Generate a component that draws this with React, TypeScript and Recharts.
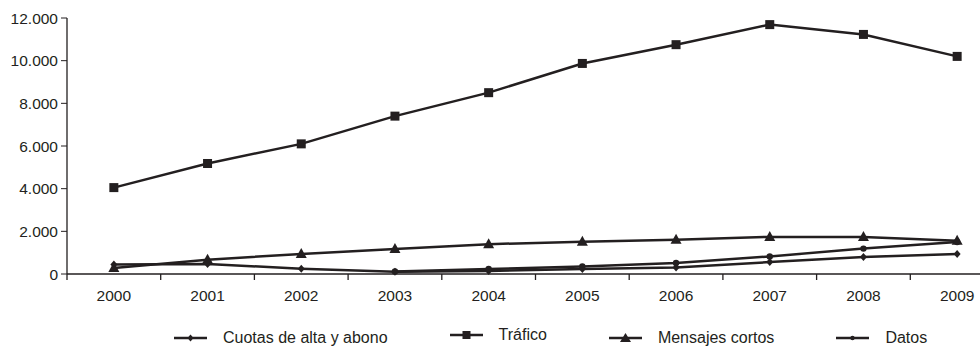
import React from "react";
import { LineChart, Line, XAxis, YAxis } from "recharts";

// Annual figures (millions), 2000–2009
const years = ["2000", "2001", "2002", "2003", "2004", "2005", "2006", "2007", "2008", "2009"];
const cuotas = [450, 470, 250, 110, 140, 230, 310, 560, 800, 940];
const trafico = [4050, 5180, 6100, 7400, 8500, 9870, 10750, 11690, 11230, 10200];
const mensajes = [280, 670, 940, 1170, 1400, 1510, 1610, 1740, 1740, 1560];
const datos: (number | null)[] = [null, null, null, 120, 235, 357, 516, 826, 1190, 1500];

const seriesNames = ["Cuotas de alta y abono", "Tráfico", "Mensajes cortos", "Datos"];
const yTicks = [0, 2000, 4000, 6000, 8000, 10000, 12000];

const INK = "#231f20";
const FONT = "'Liberation Sans', Arial, sans-serif";

const data = years.map((year, i) => ({
  i,
  year,
  cuotas: cuotas[i],
  trafico: trafico[i],
  mensajes: mensajes[i],
  datos: datos[i],
}));

const indexTicks = years.map((_, i) => i);
const boundaryTicks = [...years.map((_, i) => i - 0.5), years.length - 0.5];

const fmtThousands = (v: number) =>
  v.toString().replace(/\B(?=(\d{3})+(?!\d))/g, ".");

type DotProps = { cx?: number | null; cy?: number | null; index?: number };

const SquareDot = (p: DotProps) =>
  p.cx == null || p.cy == null ? (
    <g key={`sq-${p.index}`} />
  ) : (
    <rect key={`sq-${p.index}`} x={p.cx - 4.5} y={p.cy - 4.5} width={9} height={9} fill={INK} />
  );

const TriangleDot = (p: DotProps) =>
  p.cx == null || p.cy == null ? (
    <g key={`tr-${p.index}`} />
  ) : (
    <polygon
      key={`tr-${p.index}`}
      points={`${p.cx},${p.cy - 6} ${p.cx - 5.5},${p.cy + 4} ${p.cx + 5.5},${p.cy + 4}`}
      fill={INK}
    />
  );

const DiamondDot = (p: DotProps) =>
  p.cx == null || p.cy == null ? (
    <g key={`dm-${p.index}`} />
  ) : (
    <polygon
      key={`dm-${p.index}`}
      points={`${p.cx},${p.cy - 4} ${p.cx + 3.5},${p.cy} ${p.cx},${p.cy + 4} ${p.cx - 3.5},${p.cy}`}
      fill={INK}
    />
  );

const CircleDot = (p: DotProps) =>
  p.cx == null || p.cy == null ? (
    <g key={`ci-${p.index}`} />
  ) : (
    <circle key={`ci-${p.index}`} cx={p.cx} cy={p.cy} r={3.2} fill={INK} />
  );

const LegendMarker = ({ kind }: { kind: number }) => (
  <svg width={33} height={14} style={{ display: "block", flex: "none" }}>
    <line x1={0} y1={7} x2={33} y2={7} stroke={INK} strokeWidth={2.5} />
    {kind === 0 && <polygon points="16.5,3.5 19.5,7 16.5,10.5 13.5,7" fill={INK} />}
    {kind === 1 && <rect x={12.5} y={3} width={8} height={8} fill={INK} />}
    {kind === 2 && <polygon points="16.5,2 22,11 11,11" fill={INK} />}
    {kind === 3 && <circle cx={16.5} cy={7} r={2.2} fill={INK} />}
  </svg>
);

export default function App() {
  return (
    <div
      style={{
        position: "absolute",
        left: 0,
        top: 0,
        width: 980,
        height: 349,
        overflow: "hidden",
        background: "#ffffff",
      }}
    >
      <LineChart
        width={1010}
        height={349}
        data={data}
        margin={{ top: 18, right: 6, bottom: 44, left: 0 }}
      >
        {/* category boundary ticks along the baseline */}
        <XAxis
          xAxisId="grid"
          type="number"
          dataKey="i"
          domain={[-0.5, years.length - 0.5]}
          ticks={boundaryTicks}
          tickFormatter={() => ""}
          height={1}
          tickSize={6}
          axisLine={{ stroke: INK, strokeWidth: 1.3 }}
          tickLine={{ stroke: INK, strokeWidth: 1.3 }}
          interval={0}
        />
        {/* year labels centred under each point */}
        <XAxis
          xAxisId="year"
          type="number"
          dataKey="i"
          domain={[-0.5, years.length - 0.5]}
          ticks={indexTicks}
          tickFormatter={(v: number) => years[v]}
          height={30}
          tickSize={6}
          tickMargin={9}
          axisLine={false}
          tickLine={false}
          interval={0}
          tick={{ fill: INK, fontSize: 15.5, fontFamily: FONT }}
        />
        <YAxis
          width={67}
          domain={[0, 12000]}
          ticks={yTicks}
          interval={0}
          tickFormatter={fmtThousands}
          tickSize={6}
          tickMargin={3}
          axisLine={{ stroke: INK, strokeWidth: 1.3 }}
          tickLine={{ stroke: INK, strokeWidth: 1 }}
          tick={{ fill: INK, fontSize: 15.5, fontFamily: FONT }}
        />
        <Line
          xAxisId="year"
          dataKey="cuotas"
          name={seriesNames[0]}
          stroke={INK}
          strokeWidth={2.5}
          dot={DiamondDot}
          isAnimationActive={false}
        />
        <Line
          xAxisId="year"
          dataKey="trafico"
          name={seriesNames[1]}
          stroke={INK}
          strokeWidth={2.5}
          dot={SquareDot}
          isAnimationActive={false}
        />
        <Line
          xAxisId="year"
          dataKey="mensajes"
          name={seriesNames[2]}
          stroke={INK}
          strokeWidth={2.5}
          dot={TriangleDot}
          isAnimationActive={false}
        />
        <Line
          xAxisId="year"
          dataKey="datos"
          name={seriesNames[3]}
          stroke={INK}
          strokeWidth={2.5}
          dot={CircleDot}
          isAnimationActive={false}
        />
      </LineChart>

      <div
        style={{
          position: "absolute",
          left: 174,
          top: 329,
          display: "flex",
          alignItems: "center",
          gap: 62,
          fontFamily: FONT,
          fontSize: 16,
          color: INK,
          whiteSpace: "nowrap",
        }}
      >
        {seriesNames.map((name, k) => (
          <div
            key={name}
            style={{
              display: "flex",
              alignItems: "center",
              gap: 16,
              position: "relative",
              top: k === 1 ? -3 : 0,
            }}
          >
            <LegendMarker kind={k} />
            <span style={{ lineHeight: "18px" }}>{name}</span>
          </div>
        ))}
      </div>
    </div>
  );
}
